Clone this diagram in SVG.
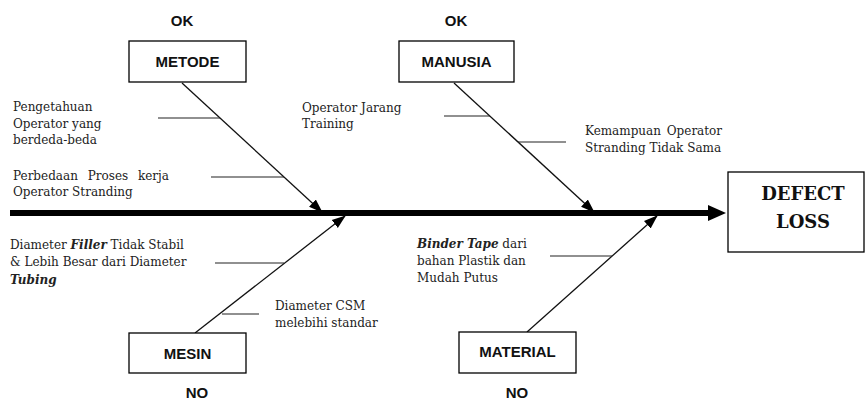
<svg xmlns="http://www.w3.org/2000/svg" width="866" height="400" viewBox="0 0 866 400">
<style>
.box{fill:#fff;stroke:#000;stroke-width:1.3}
.hd{font-family:"Liberation Sans",Arial,sans-serif;font-weight:bold;font-size:15px;fill:#111;text-anchor:middle}
.tx{font-family:"DejaVu Serif","Liberation Serif",serif;font-size:12px;fill:#222}
.bi{font-weight:bold;font-style:italic}
.big{font-family:"DejaVu Serif","Liberation Serif",serif;font-weight:bold;font-size:18px;fill:#111;text-anchor:middle}
.diag{stroke:#111;stroke-width:1.3;fill:none}
.sub{stroke:#222;stroke-width:1.1;fill:none}
</style>
<defs>
<marker id="ah" markerUnits="userSpaceOnUse" markerWidth="14" markerHeight="12" refX="13" refY="5" orient="auto" viewBox="0 0 14 10">
<path d="M0,0 L14,5 L0,10 z" fill="#000"/>
</marker>
</defs>
<rect width="866" height="400" fill="#fff"/>

<g id="connectors">
<line x1="10" y1="213" x2="712" y2="213" stroke="#000" stroke-width="6"/>
<polygon points="708,205 726,213 708,221" fill="#000"/>
<line class="diag" x1="182" y1="83" x2="322" y2="212" marker-end="url(#ah)"/>
<line class="diag" x1="454" y1="83" x2="594" y2="212" marker-end="url(#ah)"/>
<line class="diag" x1="195" y1="333" x2="345" y2="216" marker-end="url(#ah)"/>
<line class="diag" x1="527" y1="332" x2="657" y2="216" marker-end="url(#ah)"/>
<line class="sub" x1="158" y1="118" x2="220" y2="118"/>
<line class="sub" x1="211" y1="177" x2="284" y2="177"/>
<line class="sub" x1="444" y1="116" x2="490" y2="116"/>
<line class="sub" x1="518" y1="142" x2="566" y2="142"/>
<line class="sub" x1="215" y1="263" x2="284" y2="263"/>
<line class="sub" x1="222" y1="314" x2="259" y2="314"/>
<line class="sub" x1="550" y1="256" x2="612" y2="256"/>
</g>

<g id="metode">
<text class="hd" x="182" y="26">OK</text>
<rect class="box" x="129" y="41" width="117" height="41"/>
<text class="hd" x="187.5" y="67">METODE</text>
<text class="tx" x="13" y="111">Pengetahuan</text>
<text class="tx" x="13" y="128">Operator yang</text>
<text class="tx" x="13" y="144">berdeda-beda</text>
<text class="tx" x="13" y="180" word-spacing="6">Perbedaan Proses kerja</text>
<text class="tx" x="13" y="196">Operator Stranding</text>
</g>

<g id="manusia">
<text class="hd" x="456" y="26">OK</text>
<rect class="box" x="399" y="41" width="115" height="41"/>
<text class="hd" x="456.5" y="67">MANUSIA</text>
<text class="tx" x="302" y="112">Operator Jarang</text>
<text class="tx" x="302" y="128">Training</text>
<text class="tx" x="585" y="135" word-spacing="2">Kemampuan Operator</text>
<text class="tx" x="585" y="152">Stranding Tidak Sama</text>
</g>

<g id="mesin">
<rect class="box" x="129" y="333" width="117" height="40"/>
<text class="hd" x="187.5" y="359">MESIN</text>
<text class="hd" x="197" y="398">NO</text>
<text class="tx" x="10" y="249">Diameter <tspan class="bi">Filler</tspan> Tidak Stabil</text>
<text class="tx" x="10" y="266">&amp; Lebih Besar dari Diameter</text>
<text class="tx bi" x="10" y="284">Tubing</text>
<text class="tx" x="275" y="310">Diameter CSM</text>
<text class="tx" x="275" y="327">melebihi standar</text>
</g>

<g id="material">
<rect class="box" x="459" y="332" width="117" height="41"/>
<text class="hd" x="517.5" y="357">MATERIAL</text>
<text class="hd" x="517" y="398">NO</text>
<text class="tx" x="417" y="248"><tspan class="bi">Binder Tape</tspan> dari</text>
<text class="tx" x="417" y="265">bahan Plastik dan</text>
<text class="tx" x="417" y="282">Mudah Putus</text>
</g>

<g id="defect-loss">
<rect class="box" x="728" y="172" width="136" height="80"/>
<text class="big" x="803" y="200">DEFECT</text>
<text class="big" x="803" y="228">LOSS</text>
</g>
</svg>
